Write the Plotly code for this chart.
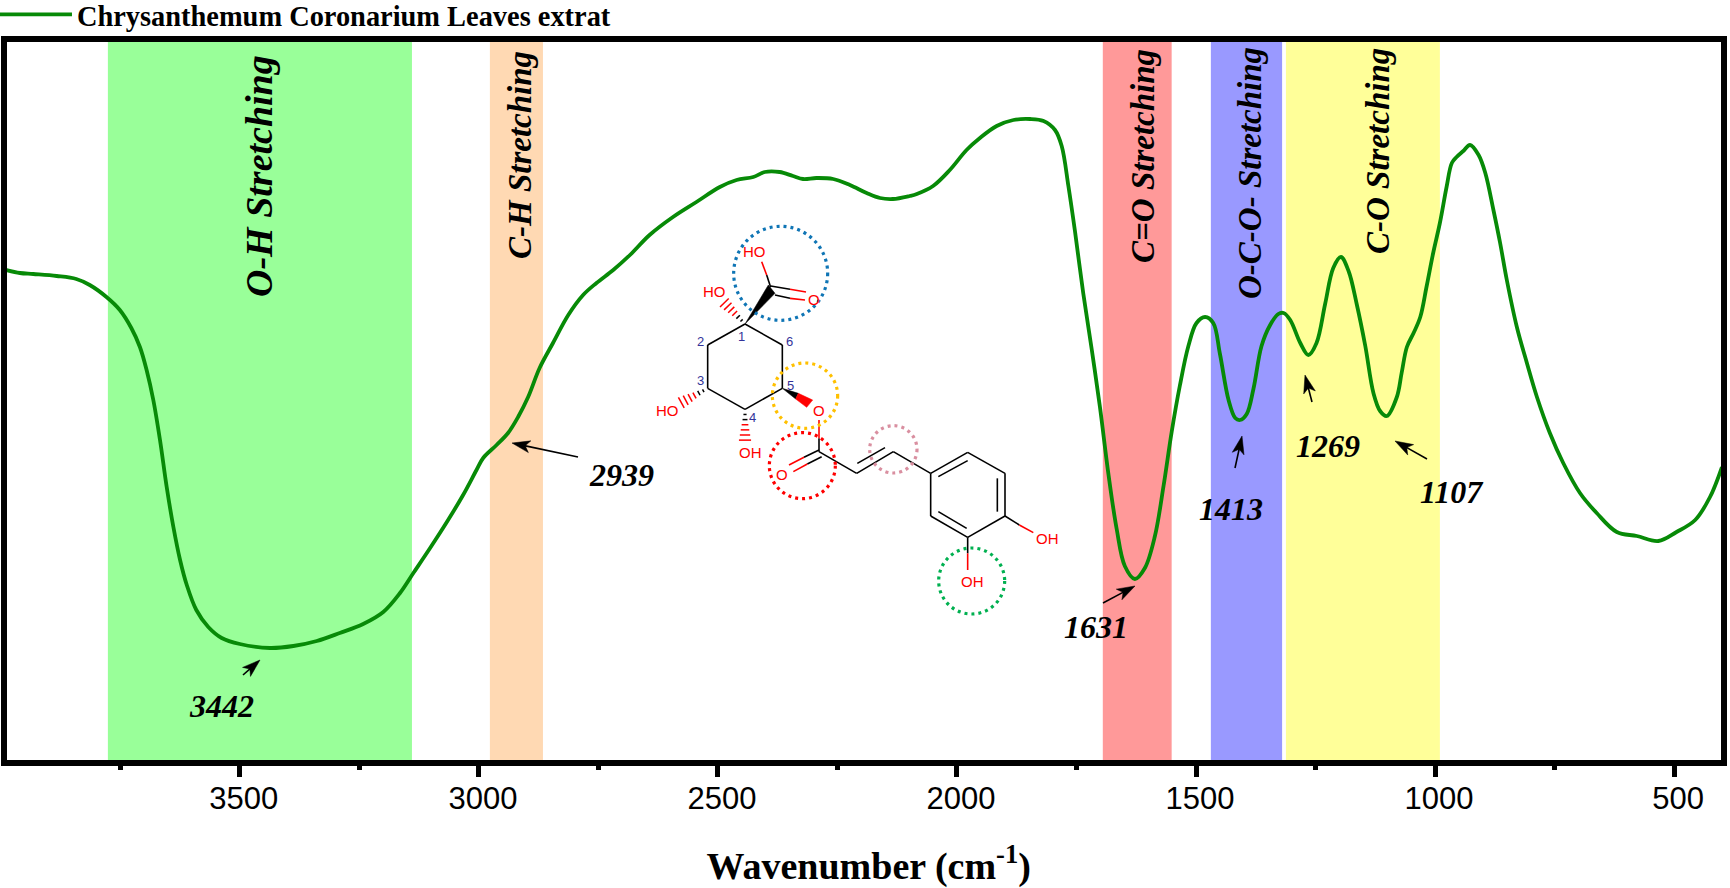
import plotly.graph_objects as go

# ---------- data ----------
WAVENUMBER = [3989,3960,3932,3883,3842,3814,3779,3751,3727,3709,3695,3681,3667,3653,3639,3625,3611,3591,3566,3538,3500,3437,3388,3339,3291,3242,3200,3165,3137,3102,3067,3033,3005,
 2991,2963,2939,2918,2897,2873,2845,2813,2782,2754,2719,2684,2643,2594,2545,2496,2461,2426,2402,2371,2343,2322,2294,2259,2224,2189,2161,2134,2099,
 2084,2050,2015,1980,1952,1917,1882,1847,1819,1795,1781,1767,1753,1736,1718,1701,1683,1666,1649,1628,1607,1586,1568,1551,1534,1516,1499,1481,1464,1450,1432,1418,1408,1394,1380,1363,1345,1328,1317,1303,1282,1265,1248,1230,1213,1197,1181,1164,1146,1129,1115,1101,
 1080,1070,1059,1045,1031,1018,1004,990,976,965,955,941,927,909,895,878,864,850,829,808,787,760,732,697,662,620,578,533,495,456,425,400]
TRANSMITTANCE = [492,489,488,486,483,477,465,452,434,415,392,362,322,275,235,202,177,152,135,124,118,114,116,121,129,138,150,169,189,214,240,267,292,
 304,317,329,345,365,394,419,447,467,479,492,507,527,545,560,575,582,585,590,590,586,583,584,583,577,569,564,563,566,
 568,576,592,612,624,636,642,643,641,632,616,576,530,469,412,355,287,233,196,183,194,226,276,330,376,416,439,445,439,408,362,344,342,348,373,416,437,448,449,442,419,407,419,458,494,505,491,458,416,369,351,346,
 365,389,415,429,445,475,509,539,575,599,605,611,617,607,589,552,519,482,435,399,365,329,299,269,249,230,226,221,230,242,265,295]
SERIES_NAME = "Chrysanthemum Coronarium Leaves extrat"
MAJOR_TICKS = [3500,3000,2500,2000,1500,1000,500]
X_TITLE = "Wavenumber (cm<sup>-1</sup>)"

BAND_EDGES = [(3776,3140),(2977,2866),(1695,1551),(1469,1320),(1312,990)]
BAND_COLORS = ["#99FF99","#FFD9B3","#FF9999","#9999FF","#FFFF99"]
BAND_LABELS = ["O-H Stretching","C-H Stretching","C=O Stretching","O-C-O- Stretching","C-O Stretching"]
PEAK_LABELS = ["3442","2939","1631","1413","1269","1107"]

# ---------- page geometry ----------
W, H = 1730, 888
L, R, T, B = 7, 1721, 42, 760
def fx(px): return (px - L) / (R - L)
def fy(py): return (B - py) / (B - T)
def zp(zx, zy): return fx(620 + zx / 3), fy(200 + zy / 3)

SERIF = "Liberation Serif"
SANS = "Liberation Sans"
fig = go.Figure()
fig.add_trace(go.Scatter(x=WAVENUMBER, y=TRANSMITTANCE, mode="lines", name=SERIES_NAME,
                         line=dict(color="#078A07", width=3.8, shape="spline", smoothing=1.0)))

shapes, ann = [], []
for (a, b), c in zip(BAND_EDGES, BAND_COLORS):
    shapes.append(dict(type="rect", xref="x", yref="paper", x0=a, x1=b, y0=0, y1=1,
                       fillcolor=c, line_width=0, layer="below"))

# band captions
for txt, px, py, size in zip(BAND_LABELS, [259,520,1143,1250,1378], [176,155,156,173,151], [38,33,33,33,33]):
    ann.append(dict(text=f"<b><i>{txt}</i></b>", xref="paper", yref="paper", x=fx(px), y=fy(py),
                    textangle=-90, showarrow=False, font=dict(family=SERIF, size=size, color="black"),
                    xanchor="center", yanchor="middle"))

# peak labels
for txt, (lx, ly) in zip(PEAK_LABELS, [(221,706),(621,475),(1096,627),(1231,509),(1328,446),(1452,492)]):
    ann.append(dict(text=f"<b><i>{txt}</i></b>", xref="paper", yref="paper", x=fx(lx), y=fy(ly), showarrow=False,
                    font=dict(family=SERIF, size=32, color="black"), xanchor="center", yanchor="middle"))

def ppath(pts, color):
    d = [("M" if i == 0 else "L") + f"{fx(a):.5f},{fy(b):.5f}" for i, (a, b) in enumerate(pts)]
    shapes.append(dict(type="path", xref="paper", yref="paper", path=" ".join(d) + " Z",
                       fillcolor=color, line=dict(color=color, width=0.5)))

# peak arrows
for (hx, hy), (tx, ty) in [((260,660),(243,675)),((512,443),(578,457)),((1135,586),(1103,603)),
                           ((1242,436),(1235,468)),((1305,375),(1312,402)),((1395,441),(1427,459))]:
    dx, dy = tx-hx, ty-hy
    ln = (dx*dx + dy*dy) ** 0.5
    ux, uy = dx/ln, dy/ln
    nx, ny = -uy, ux
    hl, hw = min(18, ln*0.8), 6
    ppath([(hx, hy), (hx+ux*hl+nx*hw, hy+uy*hl+ny*hw), (hx+ux*hl*0.75, hy+uy*hl*0.75),
           (hx+ux*hl-nx*hw, hy+uy*hl-ny*hw)], "black")
    shapes.append(dict(type="line", xref="paper", yref="paper", x0=fx(hx+ux*hl*0.7), y0=fy(hy+uy*hl*0.7),
                       x1=fx(tx), y1=fy(ty), line=dict(color="black", width=1.6)))

# ---------- chlorogenic-acid sketch ----------
def seg(p, q, color="black", w=1.6):
    x0, y0 = zp(*p); x1, y1 = zp(*q)
    shapes.append(dict(type="line", xref="paper", yref="paper", x0=x0, y0=y0, x1=x1, y1=y1,
                       line=dict(color=color, width=w)))
def poly(pts, color):
    d = []
    for i, (a, b) in enumerate(pts):
        x, y = zp(a, b)
        d.append(("M" if i == 0 else "L") + f"{x:.5f},{y:.5f}")
    shapes.append(dict(type="path", xref="paper", yref="paper", path=" ".join(d) + " Z",
                       fillcolor=color, line=dict(color=color, width=0.5)))
def hashed(p, q, n=6, split=2):
    for i in range(1, n + 1):
        t = i / (n + 0.3)
        cx, cy = p[0] + (q[0]-p[0])*t, p[1] + (q[1]-p[1])*t
        dx, dy = q[0]-p[0], q[1]-p[1]
        ln = (dx*dx + dy*dy) ** 0.5
        nx, ny = -dy/ln, dx/ln
        h = 2 + 17 * t
        seg((cx-nx*h, cy-ny*h), (cx+nx*h, cy+ny*h), "black" if i <= split else "#FF0000", 1.5)

for ring in ([(375,372),(263,435),(263,565),(375,628),(487,565),(487,435),(375,372)],
             [(932,820),(1043,757),(1155,820),(1155,948),(1043,1012),(932,948),(932,820)]):
    for a, b in zip(ring, ring[1:]):
        seg(a, b)
for a, b in [((955,830),(1043,782)),((1132,835),(1132,935)),((955,935),(1040,985)),
             ((597,755),(710,820)),((710,820),(820,755)),((712,790),(795,743)),((820,755),(932,820)),
             ((597,715),(597,755)),((597,750),(552,772)),((605,770),(562,792)),
             ((452,262),(440,225)),((452,258),(510,268)),((465,285),(510,295)),
             ((1155,948),(1198,975)),((1043,1012),(1043,1060))]:
    seg(a, b)
for a, b in [((597,660),(597,715)),((552,772),(507,795)),((562,792),(520,815)),((440,225),(425,185)),
             ((510,268),(558,276)),((510,295),(555,300)),((1198,975),(1240,998)),((1043,1060),(1043,1110))]:
    seg(a, b, "#FF0000")
poly([(375,372),(445,255),(465,280)], "black")
poly([(487,565),(527,597),(535,580)], "black")
poly([(527,597),(535,580),(578,600),(560,622)], "#FF0000")
hashed((375,372),(310,305))
hashed((263,565),(180,610))
hashed((375,628),(375,725))

for (zx, zy), txt in zip([(403,153),(283,273),(142,630),(390,758),(583,297),(597,630),(485,822),(1282,1015),(1058,1145)],
                         ["HO","HO","HO","OH","O","O","O","OH","OH"]):
    x, y = zp(zx, zy)
    ann.append(dict(text=txt, xref="paper", yref="paper", x=x, y=y, showarrow=False,
                    font=dict(family=SANS, size=15, color="#FF0000"), xanchor="center", yanchor="middle"))
for (zx, zy), txt in zip([(365,408),(240,423),(240,541),(396,653),(510,557),(508,423)], list("123456")):
    x, y = zp(zx, zy)
    ann.append(dict(text=txt, xref="paper", yref="paper", x=x, y=y, showarrow=False,
                    font=dict(family=SANS, size=13, color="#333399"), xanchor="center", yanchor="middle"))
for (zx, zy, r), c in zip([(482,220,141),(555,587,98),(547,797,99),(820,748,71),(1055,1143,99)],
                          ["#0F75B5","#FFC000","#FF0000","#D98FA0","#00B050"]):
    x0, y0 = zp(zx-r, zy+r); x1, y1 = zp(zx+r, zy-r)
    shapes.append(dict(type="circle", xref="paper", yref="paper", x0=x0, y0=y0, x1=x1, y1=y1,
                       line=dict(color=c, width=3.2, dash="3px,4px")))

fig.update_layout(
    width=W, height=H, autosize=False,
    margin=dict(l=L, r=W-R, t=T, b=H-B, pad=0, autoexpand=False),
    paper_bgcolor="white", plot_bgcolor="white",
    shapes=shapes, annotations=ann, showlegend=True,
    legend=dict(x=-0.0076, y=1.0035, xanchor="left", yanchor="bottom",
                itemwidth=73, bgcolor="rgba(0,0,0,0)", tracegroupgap=0,
                font=dict(family=SERIF, size=28.4, color="black", weight="bold")),
    xaxis=dict(range=[3987,402], showgrid=False, zeroline=False, showline=True, mirror=True,
               linecolor="black", linewidth=5.5, ticks="outside", ticklen=11.5, tickwidth=5, tickcolor="black",
               tickvals=MAJOR_TICKS, ticktext=[str(t) for t in MAJOR_TICKS],
               tickfont=dict(family=SANS, size=31, color="black"),
               ticklabelstandoff=-5, ticklabelshift=-4,
               minor=dict(tickmode="linear", tick0=250, dtick=500, ticks="outside", ticklen=4.5, tickwidth=5, tickcolor="black", showgrid=False),
               title=dict(text=f"<b>&nbsp;{X_TITLE}</b>", font=dict(family=SERIF, size=38, color="black"), standoff=39)),
    yaxis=dict(range=[2,720], showgrid=False, zeroline=False, showline=True, mirror=True,
               linecolor="black", linewidth=5.5, ticks="", showticklabels=False),
)
fig.write_html("out.html", config={"displayModeBar": False},
               post_script="document.body.style.margin='0';document.body.style.overflow='hidden';")
